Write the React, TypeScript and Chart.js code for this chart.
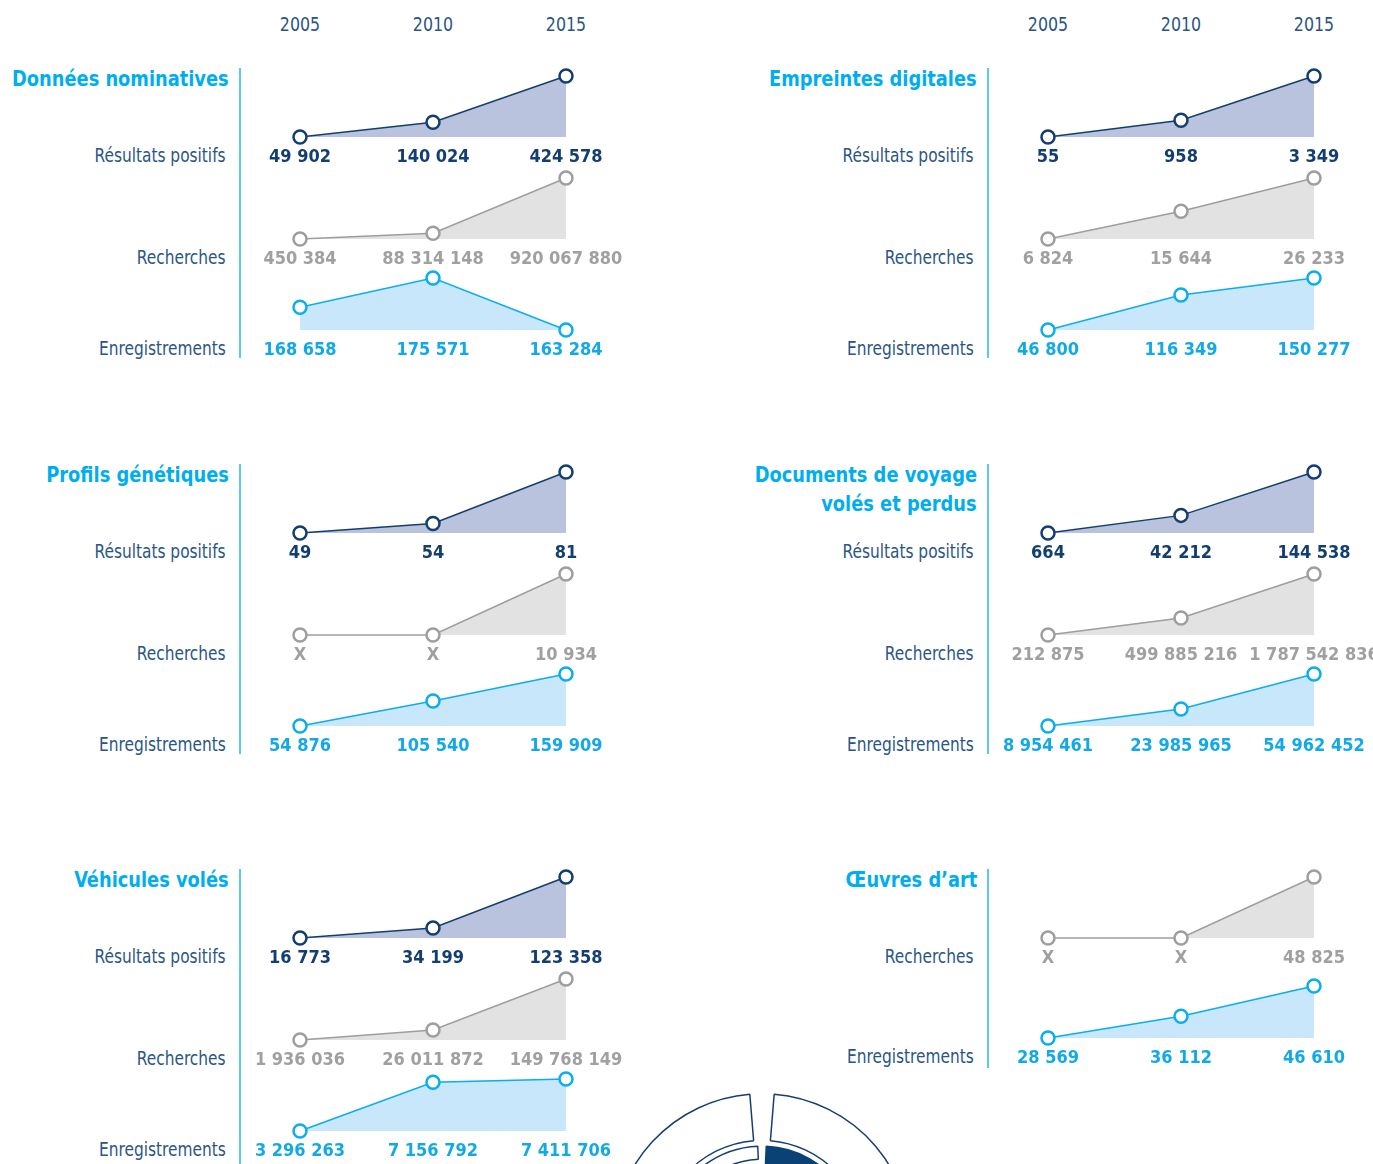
import React, { useEffect, useRef } from "react";
import { Chart, registerables } from "chart.js";

Chart.register(...registerables);

// ---------- DATA ----------
const years = ["2005", "2010", "2015"];
const rowResultats = "Résultats positifs";
const rowRecherches = "Recherches";
const rowEnregistrements = "Enregistrements";

// null means "X" (not available)
const nominativesResultats = [49902, 140024, 424578];
const nominativesRecherches = [450384, 88314148, 920067880];
const nominativesEnregistrements = [168658, 175571, 163284];

const empreintesResultats = [55, 958, 3349];
const empreintesRecherches = [6824, 15644, 26233];
const empreintesEnregistrements = [46800, 116349, 150277];

const profilsResultats = [49, 54, 81];
const profilsRecherches: (number | null)[] = [null, null, 10934];
const profilsEnregistrements = [54876, 105540, 159909];

const documentsResultats = [664, 42212, 144538];
const documentsRecherches = [212875, 499885216, 1787542836];
const documentsEnregistrements = [8954461, 23985965, 54962452];

const vehiculesResultats = [16773, 34199, 123358];
const vehiculesRecherches = [1936036, 26011872, 149768149];
const vehiculesEnregistrements = [3296263, 7156792, 7411706];

const oeuvresRecherches: (number | null)[] = [null, null, 48825];
const oeuvresEnregistrements = [28569, 36112, 46610];

// decorative doughnut (cut off at the bottom of the page)
const outerRing = [1.3, 97.4, 1.3];
const ringSpacer = [100];
const innerRing = [0.7, 30, 68.6, 0.7];

// ---------- STYLE / LAYOUT ----------
const FONT = '"DejaVu Sans Condensed", "DejaVu Sans", sans-serif';
const NAVY = "#143f72";
const LABEL_BLUE = "#2a5686";
const CYAN = "#00aeef";
const VLINE = "#5ec6f0";
const PAGE_W = 1373;

type Kind = "res" | "rec" | "enr";
const themes: Record<Kind, { line: string; fill: string; text: string }> = {
  res: { line: "#123e71", fill: "#b9c3de", text: "#123e71" },
  rec: { line: "#9e9e9e", fill: "#e2e2e2", text: "#a0a0a0" },
  enr: { line: "#0aaeee", fill: "#c8e7fa", text: "#12a9e6" },
};

// slot: baseline y and height within a panel (panel offset added)
const slots = [
  { baseline: 137, h: 61 },
  { baseline: 239, h: 61 },
  { baseline: 330, h: 52 },
  { baseline: 237, h: 52 },
];
const rowOffsets = [0, 396, 801];
const colX = [300, 1048];
const SPAN = 266;

type Series = { kind: Kind; name: string; values: (number | null)[]; slot: number };
type Panel = { title: string[]; col: number; row: number; series: Series[]; lineEnd: number };

const panels: Panel[] = [
  {
    title: ["Données nominatives"], col: 0, row: 0, lineEnd: 358,
    series: [
      { kind: "res", name: rowResultats, values: nominativesResultats, slot: 0 },
      { kind: "rec", name: rowRecherches, values: nominativesRecherches, slot: 1 },
      { kind: "enr", name: rowEnregistrements, values: nominativesEnregistrements, slot: 2 },
    ],
  },
  {
    title: ["Empreintes digitales"], col: 1, row: 0, lineEnd: 358,
    series: [
      { kind: "res", name: rowResultats, values: empreintesResultats, slot: 0 },
      { kind: "rec", name: rowRecherches, values: empreintesRecherches, slot: 1 },
      { kind: "enr", name: rowEnregistrements, values: empreintesEnregistrements, slot: 2 },
    ],
  },
  {
    title: ["Profils génétiques"], col: 0, row: 1, lineEnd: 358,
    series: [
      { kind: "res", name: rowResultats, values: profilsResultats, slot: 0 },
      { kind: "rec", name: rowRecherches, values: profilsRecherches, slot: 1 },
      { kind: "enr", name: rowEnregistrements, values: profilsEnregistrements, slot: 2 },
    ],
  },
  {
    title: ["Documents de voyage", "volés et perdus"], col: 1, row: 1, lineEnd: 358,
    series: [
      { kind: "res", name: rowResultats, values: documentsResultats, slot: 0 },
      { kind: "rec", name: rowRecherches, values: documentsRecherches, slot: 1 },
      { kind: "enr", name: rowEnregistrements, values: documentsEnregistrements, slot: 2 },
    ],
  },
  {
    title: ["Véhicules volés"], col: 0, row: 2, lineEnd: 400,
    series: [
      { kind: "res", name: rowResultats, values: vehiculesResultats, slot: 0 },
      { kind: "rec", name: rowRecherches, values: vehiculesRecherches, slot: 1 },
      { kind: "enr", name: rowEnregistrements, values: vehiculesEnregistrements, slot: 2 },
    ],
  },
  {
    title: ["Œuvres d’art"], col: 1, row: 2, lineEnd: 267,
    series: [
      { kind: "rec", name: rowRecherches, values: oeuvresRecherches, slot: 0 },
      { kind: "enr", name: rowEnregistrements, values: oeuvresEnregistrements, slot: 3 },
    ],
  },
];

function fmt(v: number | null): string {
  if (v === null) return "X";
  return String(v).replace(/\B(?=(\d{3})+(?!\d))/g, " ");
}

const PAD_L = 70;
const PAD_R = 70;
const PAD_T = 10;
const PAD_B = 34;

function MiniChart({ series, x0, baseline, h }: { series: Series; x0: number; baseline: number; h: number }) {
  const ref = useRef<HTMLCanvasElement>(null);
  useEffect(() => {
    const th = themes[series.kind];
    const plotted = series.values.map((v) => (v === null ? 0 : v));
    const min = Math.min(...plotted);
    const max = Math.max(...plotted);
    const labels = series.values.map(fmt);
    const labelPlugin = {
      id: "valueLabels",
      afterDatasetsDraw(chart: any) {
        const ctx = chart.ctx as CanvasRenderingContext2D;
        const xs = chart.scales.x;
        ctx.save();
        ctx.font = `bold 18px ${FONT}`;
        ctx.fillStyle = th.text;
        ctx.textAlign = "center";
        ctx.textBaseline = "alphabetic";
        labels.forEach((t, i) => {
          ctx.fillText(t, xs.getPixelForValue(i), chart.chartArea.bottom + 25);
        });
        ctx.restore();
      },
    };
    const chart = new Chart(ref.current!, {
      type: "line",
      data: {
        labels: years,
        datasets: [
          {
            data: plotted,
            borderColor: th.line,
            backgroundColor: th.fill,
            fill: "start",
            tension: 0,
            borderWidth: 1.5,
            pointRadius: 6.5,
            pointBorderWidth: 2.5,
            pointBackgroundColor: "#ffffff",
            pointBorderColor: th.line,
            clip: false as any,
          },
        ],
      },
      options: {
        animation: false,
        responsive: false,
        events: [],
        layout: { padding: { left: PAD_L, right: PAD_R, top: PAD_T, bottom: PAD_B } },
        plugins: { legend: { display: false }, tooltip: { enabled: false } },
        scales: {
          x: { display: false, offset: false },
          y: { display: false, min, max },
        },
      },
      plugins: [labelPlugin],
    });
    return () => chart.destroy();
  }, []);
  const w = PAD_L + SPAN + PAD_R;
  const hh = PAD_T + h + PAD_B;
  return (
    <canvas
      ref={ref}
      width={w}
      height={hh}
      style={{ position: "absolute", left: x0 - PAD_L, top: baseline - h - PAD_T, width: w, height: hh }}
    />
  );
}

function Doughnut() {
  const ref = useRef<HTMLCanvasElement>(null);
  useEffect(() => {
    const T = "rgba(0,0,0,0)";
    const chart = new Chart(ref.current!, {
      type: "doughnut",
      data: {
        datasets: [
          {
            data: outerRing,
            backgroundColor: [T, "#ffffff", T],
            borderColor: [T, NAVY, T],
            borderWidth: [0, 1.5, 0],
            weight: 47,
          } as any,
          {
            data: ringSpacer,
            backgroundColor: [T],
            borderWidth: 0,
            weight: 6,
          } as any,
          {
            data: innerRing,
            backgroundColor: [T, "#0b4275", "#ffffff", T],
            borderColor: [T, "#0b4275", NAVY, T],
            borderWidth: [0, 1.5, 1.5, 0],
            weight: 13,
          } as any,
          {
            data: innerRing,
            backgroundColor: [T, "#0b4275", T, T],
            borderColor: [T, "#0b4275", T, T],
            borderWidth: [0, 1.5, 0, 0],
            weight: 10,
          } as any,
        ],
      },
      options: {
        animation: false,
        responsive: false,
        events: [],
        cutout: 74,
        plugins: { legend: { display: false }, tooltip: { enabled: false } },
      },
    });
    return () => chart.destroy();
  }, []);
  return (
    <canvas ref={ref} width={300} height={300} style={{ position: "absolute", left: 612, top: 1093, width: 300, height: 300 }} />
  );
}

function RightText({ text, right, cy, size, bold, color, scale }: {
  text: string; right: number; cy: number; size: number; bold?: boolean; color: string; scale: number;
}) {
  return (
    <div
      style={{
        position: "absolute",
        right: PAGE_W - right,
        top: cy - size * 0.6,
        font: `${bold ? "bold " : ""}${size}px ${FONT}`,
        lineHeight: `${Math.round(size * 1.2)}px`,
        color,
        whiteSpace: "nowrap",
        transform: `scaleX(${scale})`,
        transformOrigin: "right center",
      }}
    >
      {text}
    </div>
  );
}

export default function App() {
  const items: React.ReactNode[] = [];
  // year headers
  colX.forEach((cx, ci) => {
    years.forEach((y, i) => {
      items.push(
        <div
          key={`yr-${ci}-${i}`}
          style={{
            position: "absolute",
            left: cx + i * (SPAN / 2) - 40,
            width: 80,
            top: 24 - 12,
            textAlign: "center",
            font: `20px ${FONT}`,
            lineHeight: "24px",
            color: LABEL_BLUE,
            transform: "scaleX(0.88)",
            transformOrigin: "center center",
          }}
        >
          {y}
        </div>
      );
    });
  });

  panels.forEach((p, pi) => {
    const dy = rowOffsets[p.row];
    const x0 = colX[p.col];
    p.title.forEach((t, li) => {
      items.push(
        <RightText
          key={`t-${pi}-${li}`}
          text={t}
          right={x0 - 71}
          cy={dy + 79 + li * 29}
          size={22}
          bold
          color={CYAN}
          scale={0.9}
        />
      );
    });
    items.push(
      <div
        key={`vl-${pi}`}
        style={{
          position: "absolute",
          left: x0 - 61,
          top: dy + 68,
          width: 2,
          height: p.lineEnd - 68,
          background: VLINE,
        }}
      />
    );
    p.series.forEach((s, si) => {
      const sl = slots[s.slot];
      const baseline = sl.baseline + dy;
      items.push(
        <RightText
          key={`rl-${pi}-${si}`}
          text={s.name}
          right={x0 - 74}
          cy={baseline + 18}
          size={19}
          color={LABEL_BLUE}
          scale={0.9}
        />
      );
      items.push(<MiniChart key={`c-${pi}-${si}`} series={s} x0={x0} baseline={baseline} h={sl.h} />);
    });
  });

  return (
    <div
      style={{
        position: "absolute",
        left: 0,
        top: 0,
        width: PAGE_W,
        height: 1164,
        overflow: "hidden",
        background: "#ffffff",
      }}
    >
      {items}
      <Doughnut />
    </div>
  );
}
